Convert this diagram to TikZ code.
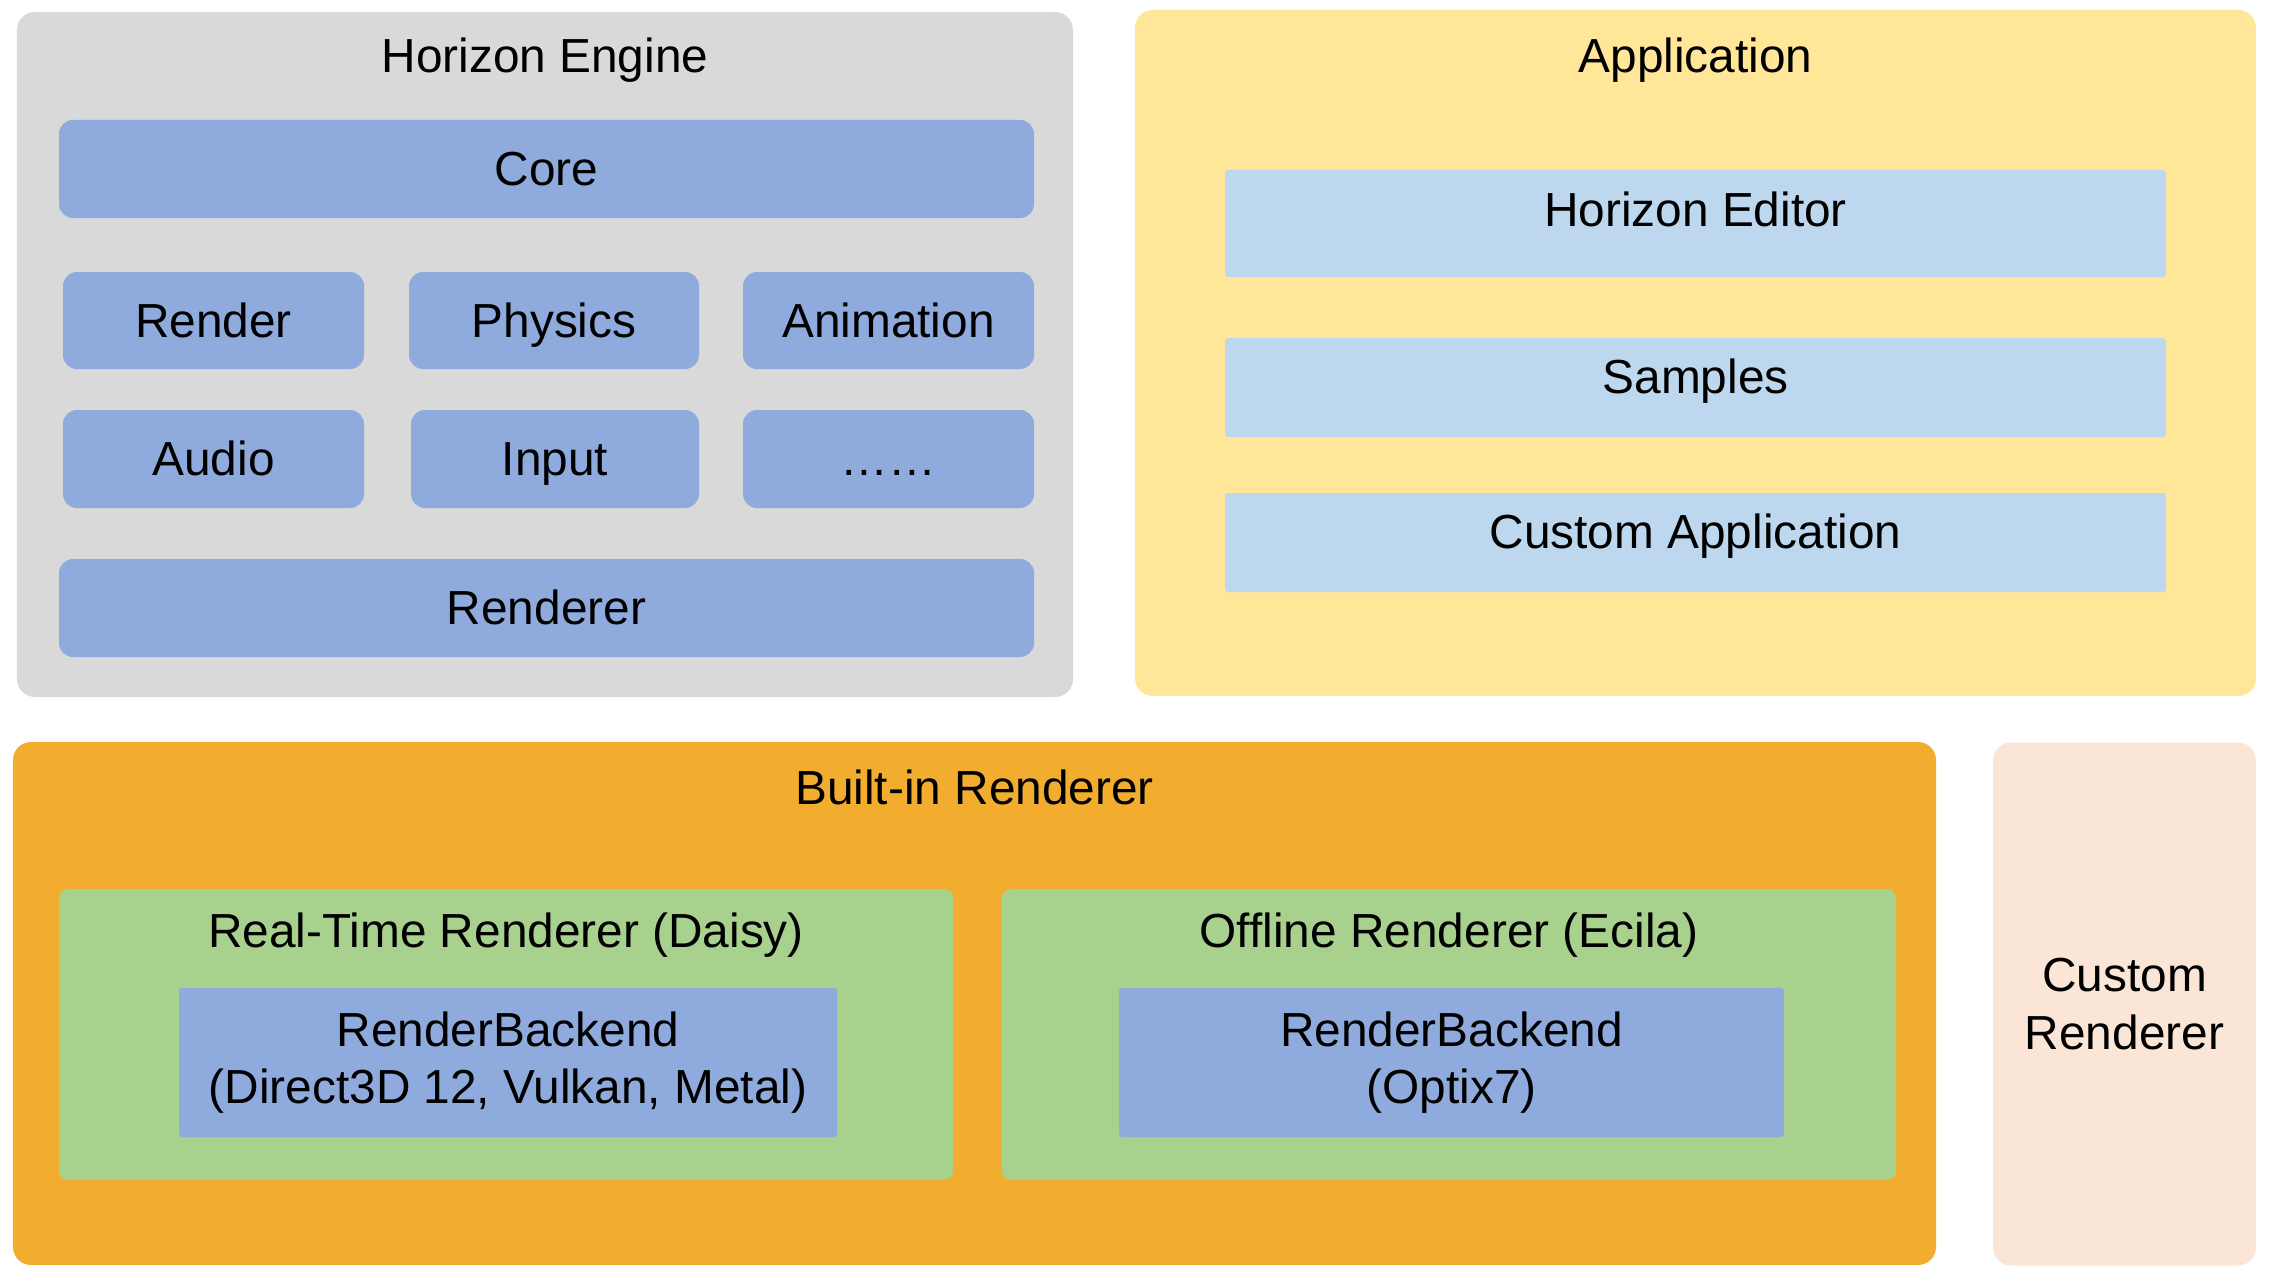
\documentclass[tikz,border=0pt]{standalone}
\usepackage{fontspec}
\setmainfont{Liberation Sans}

\definecolor{enginegray}{HTML}{D9D9D9}
\definecolor{moduleblue}{HTML}{8FAADC}
\definecolor{appyellow}{HTML}{FFE699}
\definecolor{applightblue}{HTML}{BDD7EE}
\definecolor{builtinorange}{HTML}{F2AC2E}
\definecolor{renderergreen}{HTML}{A9D18E}
\definecolor{custompeach}{HTML}{FBE5D6}

\begin{document}
\begin{tikzpicture}[
    every node/.style={font=\fontsize{13.6}{16.35}\selectfont},
    panel/.style={rectangle, rounded corners=0.18cm, inner sep=0pt},
    module/.style={rectangle, rounded corners=0.14cm, fill=moduleblue, inner sep=0pt,
        text height=0.94em, text depth=0pt},
    appbox/.style={rectangle, rounded corners=0.03cm, fill=applightblue, inner sep=0pt,
        minimum width=9.41cm, minimum height=0.99cm, text height=0.73em, text depth=0.38em},
    backend/.style={rectangle, rounded corners=0.03cm, fill=moduleblue, inner sep=0pt,
        align=center, minimum height=1.49cm},
    title/.style={anchor=base, inner sep=0pt}
]
    \useasboundingbox (0,0) rectangle (22.7,-12.79);

    % Horizon Engine
    \node[panel, fill=enginegray, minimum width=10.56cm, minimum height=6.85cm] (engine) at (5.45,-3.545) {};
    \node[title] (enginetitle) at (5.45,-0.73) {Horizon Engine};
    \node[module, minimum width=9.75cm, minimum height=0.98cm] (core) at (5.465,-1.69) {Core};
    \node[module, minimum width=3.01cm, minimum height=0.97cm] (render) at (2.135,-3.205) {Render};
    \node[module, minimum width=2.90cm, minimum height=0.97cm] (physics) at (5.54,-3.205) {Physics};
    \node[module, minimum width=2.91cm, minimum height=0.97cm] (animation) at (8.885,-3.205) {Animation};
    \node[module, minimum width=3.01cm, minimum height=0.98cm] (audio) at (2.135,-4.59) {Audio};
    \node[module, minimum width=2.88cm, minimum height=0.98cm] (input) at (5.55,-4.59) {Input};
    \node[module, minimum width=2.91cm, minimum height=0.98cm] (more) at (8.885,-4.59) {……};
    \node[module, minimum width=9.75cm, minimum height=0.98cm] (renderer) at (5.465,-6.08) {Renderer};

    % Application
    \node[panel, fill=appyellow, minimum width=11.21cm, minimum height=6.86cm] (app) at (16.955,-3.53) {};
    \node[title] (apptitle) at (16.955,-0.73) {Application};
    \node[appbox, minimum height=1.07cm, text depth=0.55em] (editor) at (16.955,-2.235) {Horizon Editor};
    \node[appbox] (samples) at (16.955,-3.875) {Samples};
    \node[appbox] (customapp) at (16.955,-5.425) {Custom Application};

    % Built-in Renderer
    \node[panel, fill=builtinorange, minimum width=19.23cm, minimum height=5.23cm] (builtin) at (9.745,-10.035) {};
    \node[title] (builtintitle) at (9.745,-8.04) {Built-in Renderer};
    \node[panel, rounded corners=0.09cm, fill=renderergreen, minimum width=8.94cm, minimum height=2.91cm] (realtime) at (5.06,-10.345) {};
    \node[title] (realtimetitle) at (5.06,-9.47) {Real-Time Renderer (Daisy)};
    \node[backend, minimum width=6.58cm] (rtbackend) at (5.08,-10.625) {RenderBackend\\(Direct3D 12, Vulkan, Metal)};
    \node[panel, rounded corners=0.09cm, fill=renderergreen, minimum width=8.94cm, minimum height=2.91cm] (offline) at (14.49,-10.345) {};
    \node[title] (offlinetitle) at (14.49,-9.47) {Offline Renderer (Ecila)};
    \node[backend, minimum width=6.65cm] (olbackend) at (14.515,-10.625) {RenderBackend\\(Optix7)};

    % Custom Renderer
    \node[panel, fill=custompeach, align=center, minimum width=2.63cm, minimum height=5.23cm] (customrenderer) at (21.245,-10.04) {Custom\\Renderer};

\end{tikzpicture}
\end{document}
